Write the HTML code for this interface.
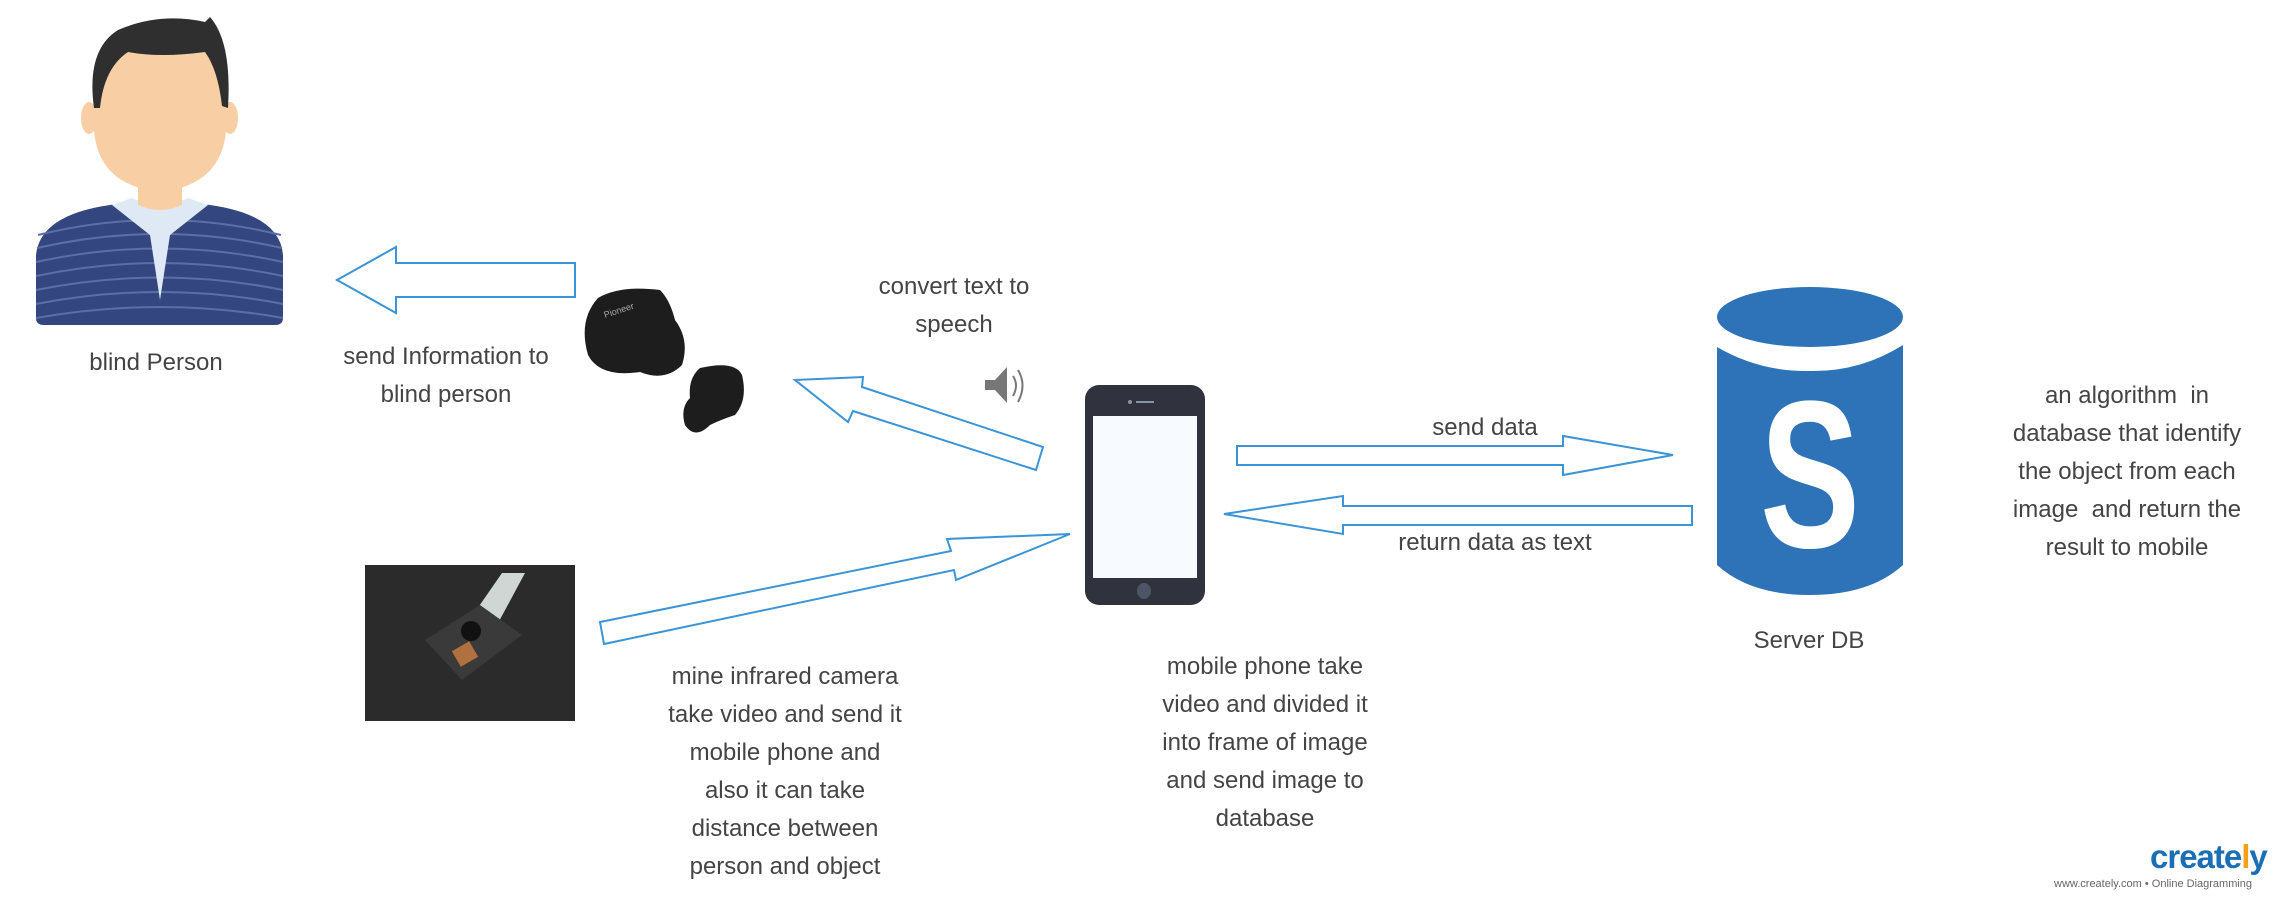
<!DOCTYPE html>
<html><head><meta charset="utf-8"><style>
html,body{margin:0;padding:0;background:#fff;}
body{width:2283px;height:901px;overflow:hidden;position:relative;font-family:"Liberation Sans",sans-serif;}
.t{position:absolute;color:#444;font-size:24px;line-height:38px;text-align:center;white-space:nowrap;transform:translateX(-50%);}
</style></head><body>
<svg width="2283" height="901" style="position:absolute;left:0;top:0">
<!-- person -->
<path d="M36 255 Q40 215 110 205 L160 200 L210 205 Q280 215 283 255 L283 318 Q283 325 275 325 L44 325 Q36 325 36 318 Z" fill="#34467f"/>
<g stroke="#5b6ea6" stroke-width="2" fill="none">
<path d="M38 235 Q160 205 281 235"/><path d="M37 248 Q160 220 282 248"/><path d="M36 262 Q160 235 283 262"/><path d="M36 276 Q160 250 283 276"/><path d="M36 290 Q160 265 283 290"/><path d="M36 304 Q160 280 283 304"/><path d="M36 318 Q160 296 283 318"/>
</g>
<path d="M112 205 L132 198 L160 210 L188 198 L208 205 L170 235 L160 300 L150 235 Z" fill="#dfe9f5"/>
<path d="M138 170 L138 205 Q160 215 182 205 L182 170 Z" fill="#f8cfa4"/>
<ellipse cx="89" cy="118" rx="8" ry="16" fill="#f8cfa4"/><ellipse cx="230" cy="118" rx="8" ry="16" fill="#f8cfa4"/>
<path d="M94 80 Q94 40 160 38 Q226 40 226 80 L226 130 Q222 185 160 192 Q98 185 94 130 Z" fill="#f8cfa4"/>
<path d="M94 108 Q86 50 118 30 Q160 12 205 22 L210 17 Q232 42 228 108 L222 106 Q218 70 205 52 Q160 58 128 52 Q104 68 100 108 Z" fill="#2f2f2f"/>
<!-- left arrow -->
<polygon points="337,280 396,247 396,263 575,263 575,297 396,297 396,313" fill="#fff" stroke="#3a94d6" stroke-width="2"/>
<!-- earbuds -->
<path d="M598 298 Q620 285 660 290 Q670 300 675 320 Q690 340 682 365 Q665 382 640 372 Q600 378 588 355 Q578 320 598 298 Z" fill="#1d1d1d"/>
<text x="605" y="318" font-size="9" fill="#aaa" transform="rotate(-18 605 318)">Pioneer</text>
<path d="M700 368 Q735 360 742 375 Q748 400 735 415 Q720 420 710 425 Q695 440 685 425 Q680 408 690 398 Q688 378 700 368 Z" fill="#1d1d1d"/>
<!-- speaker icon -->
<path d="M985 380 L995 380 L1007 367 L1007 403 L995 390 L985 390 Z" fill="#777"/>
<path d="M1013 376 Q1019 385 1013 396" stroke="#777" stroke-width="2" fill="none"/>
<path d="M1018 370 Q1027 385 1018 402" stroke="#777" stroke-width="2" fill="none"/>
<!-- diagonal arrow to earbuds -->
<polygon points="795,380 863,377 862,387 1043,447 1036,470 853,411 848,422" fill="#fff" stroke="#3a94d6" stroke-width="2"/>
<!-- camera image -->
<rect x="365" y="565" width="210" height="156" fill="#2b2b2b"/>
<polygon points="475,612 502,573 525,573 497,625" fill="#cfd6d4"/>
<polygon points="425,640 480,605 522,635 462,680" fill="#3a3a3a"/>
<rect x="455" y="645" width="20" height="18" fill="#b07040" transform="rotate(-30 465 654)"/>
<circle cx="471" cy="631" r="10" fill="#111"/>
<!-- camera arrow -->
<polygon points="600,622 951,551 947,539 1070,534 956,580 954,570 604,644" fill="#fff" stroke="#3a94d6" stroke-width="2"/>
<!-- phone -->
<rect x="1085" y="385" width="120" height="220" rx="14" fill="#30333d"/>
<rect x="1093" y="416" width="104" height="162" fill="#f7fbff"/>
<rect x="1136" y="401" width="18" height="2" fill="#8a94a8"/><circle cx="1130" cy="402" r="2" fill="#8a94a8"/>
<ellipse cx="1144" cy="591" rx="7" ry="8" fill="#4d5566"/>
<!-- send data arrow -->
<polygon points="1237,446 1563,446 1563,436 1673,455 1563,475 1563,465 1237,465" fill="#fff" stroke="#3a94d6" stroke-width="2"/>
<!-- return arrow -->
<polygon points="1224,514 1343,496 1343,506 1692,506 1692,525 1343,525 1343,534" fill="#fff" stroke="#3a94d6" stroke-width="2"/>
<!-- DB -->
<ellipse cx="1810" cy="317" rx="93" ry="30" fill="#2e73b8"/>
<path d="M1717 347 Q1760 372 1810 371 Q1860 372 1903 345 L1903 565 Q1870 595 1810 595 Q1750 595 1717 565 Z" fill="#2e73b8"/>
<text x="1810" y="547" font-family="Liberation Sans" font-weight="bold" font-size="210" fill="#fff" text-anchor="middle" textLength="100" lengthAdjust="spacingAndGlyphs">S</text>
</svg>
<div class="t" style="left:156px;top:344px">blind Person</div>
<div class="t" style="left:446px;top:338px">send Information to<br>blind person</div>
<div class="t" style="left:954px;top:268px">convert text to<br>speech</div>
<div class="t" style="left:785px;top:658px">mine infrared camera<br>take video and send it<br>mobile phone and<br>also it can take<br>distance between<br>person and object</div>
<div class="t" style="left:1265px;top:648px">mobile phone take<br>video and divided it<br>into frame of image<br>and send image to<br>database</div>
<div class="t" style="left:1485px;top:409px">send data</div>
<div class="t" style="left:1495px;top:524px">return data as text</div>
<div class="t" style="left:1809px;top:622px">Server DB</div>
<div class="t" style="left:2127px;top:377px">an algorithm&nbsp; in<br>database that identify<br>the object from each<br>image&nbsp; and return the<br>result to mobile</div>
<div style="position:absolute;left:2150px;top:838px;font-size:33px;color:#1b6fb5;font-weight:bold;letter-spacing:-1px">create<span style="color:#f0a21c">l</span>y</div>
<div style="position:absolute;left:2054px;top:878px;font-size:11px;color:#666">www.creately.com • Online Diagramming</div>
</body></html>
